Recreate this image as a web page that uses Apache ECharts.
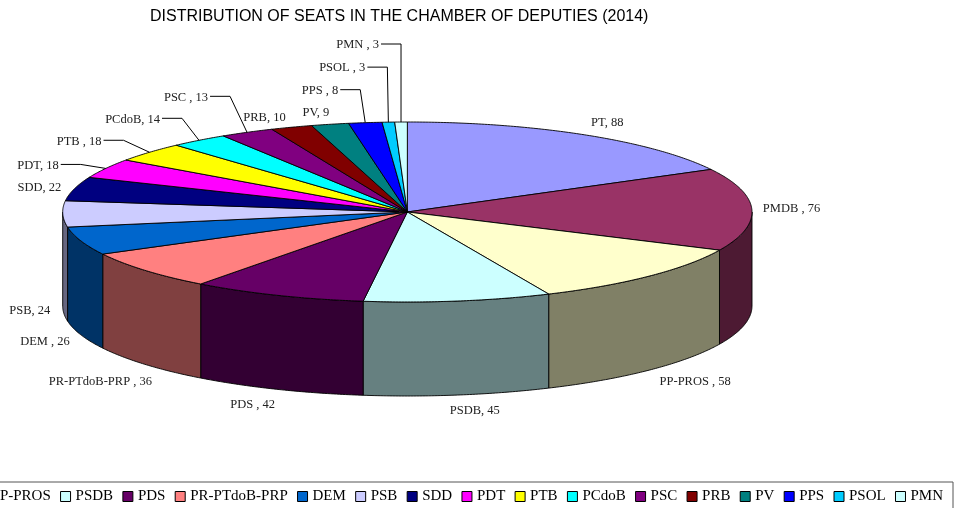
<!DOCTYPE html>
<html>
<head>
<meta charset="utf-8">
<script src="https://cdn.jsdelivr.net/npm/echarts@6/dist/echarts.min.js"></script>
<style>
  html, body { margin: 0; padding: 0; background: #fff; }
  #chart { width: 955px; height: 508px; }
</style>
</head>
<body>
<div id="chart"></div>
<script>
// seats per party, clockwise from 12 o'clock
const parties = ['PT', 'PMDB', 'PP-PROS', 'PSDB', 'PDS', 'PR-PTdoB-PRP', 'DEM', 'PSB', 'SDD',
  'PDT', 'PTB', 'PCdoB', 'PSC', 'PRB', 'PV', 'PPS', 'PSOL', 'PMN']
const seats = [88, 76, 58, 45, 42, 36, 26, 24, 22, 18, 18, 14, 13, 10, 9, 8, 3, 3]
const labelSeps = [', ', ' , ', ' , ', ', ', ' , ', ' , ', ' , ', ', ', ', ', ', ', ' , ', ', ',
  ' , ', ', ', ', ', ' , ', ' , ', ' , ']

const colors = ['#9999FF', '#993366', '#FFFFCC', '#CCFFFF', '#660066', '#FF8080', '#0066CC', '#CCCCFF',
  '#000080', '#FF00FF', '#FFFF00', '#00FFFF', '#800080', '#800000', '#008080', '#0000FF', '#00CCFF', '#CCFFFF']

// label offset from the slice anchor: dx, dy, align, leader line
const labelPos = [
  [23, -12, 'center', 0], [11, -1, 'left', 0], [46, 12, 'center', 0], [17, 16, 'center', 0],
  [-25, 15, 'center', 0], [-45, 17, 'center', 0], [-36, 7, 'center', 0], [-33, 3, 'center', 0],
  [-35, -1, 'center', 0], [-47, -3, 'right', 1], [-48, -11, 'right', 1], [-39, -21, 'right', 1],
  [-39, -35, 'right', 1], [-27, -10, 'center', 0], [-14, -12, 'center', 0], [-27, -32, 'right', 1],
  [-23, -54, 'right', 1], [-22, -77, 'right', 1]
]

const DEPTH = 1.045 // cylinder height, in units of the vertical radius
const total = seats.reduce((a, b) => a + b, 0)
const cum = [0]
seats.forEach((v, i) => cum.push(cum[i] + v))

const shade = (hex) => {
  const n = parseInt(hex.slice(1), 16)
  const r = (n >> 16) & 255, g = (n >> 8) & 255, b = n & 255
  return 'rgb(' + Math.round(r / 2) + ',' + Math.round(g / 2) + ',' + Math.round(b / 2) + ')'
}

const renderSlice = (params, api) => {
  const i = params.seriesIndex
  const a0 = cum[i] / total * Math.PI * 2
  const a1 = cum[i + 1] / total * Math.PI * 2
  const P = (t, d) => api.coord([Math.sin(t), Math.cos(t) - d])
  const arc = (s, e, d) => {
    const n = Math.max(2, Math.ceil((e - s) / (Math.PI / 360)))
    const pts = []
    for (let k = 0; k <= n; k++) pts.push(P(s + (e - s) * k / n, d))
    return pts
  }
  const children = []
  const w0 = Math.max(a0, Math.PI / 2)
  const w1 = Math.min(a1, Math.PI * 1.5)
  if (w1 > w0) {
    const pts = arc(w0, w1, 0).concat(arc(w0, w1, DEPTH).reverse())
    children.push({
      type: 'polygon',
      shape: { points: pts },
      style: { fill: shade(colors[i]), stroke: '#000', lineWidth: 0.9 }
    })
  }
  children.push({
    type: 'polygon',
    shape: { points: [api.coord([0, 0])].concat(arc(a0, a1, 0)) },
    style: { fill: colors[i], stroke: '#000', lineWidth: 0.9 }
  })

  const m = (a0 + a1) / 2
  const front = m > Math.PI / 2 && m < Math.PI * 1.5
  const anchor = P(m, front ? DEPTH : 0)
  const lp = labelPos[i]
  const tx = anchor[0] + lp[0]
  const ty = anchor[1] + lp[1]
  if (lp[3]) {
    children.push({
      type: 'polyline',
      shape: { points: [[tx + 2, ty - 1], [tx + 22, ty - 1], anchor] },
      style: { stroke: '#000', lineWidth: 1, fill: null }
    })
  }
  children.push({
    type: 'text',
    style: {
      x: tx,
      y: ty,
      text: parties[i] + labelSeps[i] + api.value(2),
      font: '12.5px "Liberation Serif"',
      fill: '#222',
      textAlign: lp[2],
      textVerticalAlign: 'middle'
    }
  })
  return { type: 'group', children }
}

const chart = echarts.init(document.getElementById('chart'))
chart.setOption({
  animation: false,
  title: {
    text: 'DISTRIBUTION OF SEATS IN THE CHAMBER OF DEPUTIES (2014)',
    left: 150,
    top: 9,
    padding: 0,
    textStyle: { fontFamily: '"Liberation Sans", Arial', fontSize: 16, fontWeight: 'normal', color: '#000' }
  },
  grid: { left: 62.7, right: 203, top: 122, bottom: 112 },
  xAxis: { type: 'value', min: -1, max: 1, show: false },
  yAxis: { type: 'value', min: -1 - DEPTH, max: 1, show: false },
  legend: {
    right: 2,
    top: 482,
    width: 2000,
    padding: [7, 10, 10, 10],
    itemWidth: 10,
    itemHeight: 10,
    itemGap: 9.3,
    icon: 'rect',
    selectedMode: false,
    backgroundColor: '#fff',
    borderColor: '#555',
    borderWidth: 1,
    borderRadius: 0,
    itemStyle: { borderColor: '#000', borderWidth: 1 },
    textStyle: { fontFamily: '"Liberation Serif"', fontSize: 15, color: '#000' },
    data: parties
  },
  series: parties.map((name, i) => ({
    name,
    type: 'custom',
    coordinateSystem: 'cartesian2d',
    encode: { x: 0, y: 1 },
    itemStyle: { color: colors[i] },
    data: [[0, 0, seats[i]]],
    renderItem: renderSlice
  }))
})
</script>
</body>
</html>
